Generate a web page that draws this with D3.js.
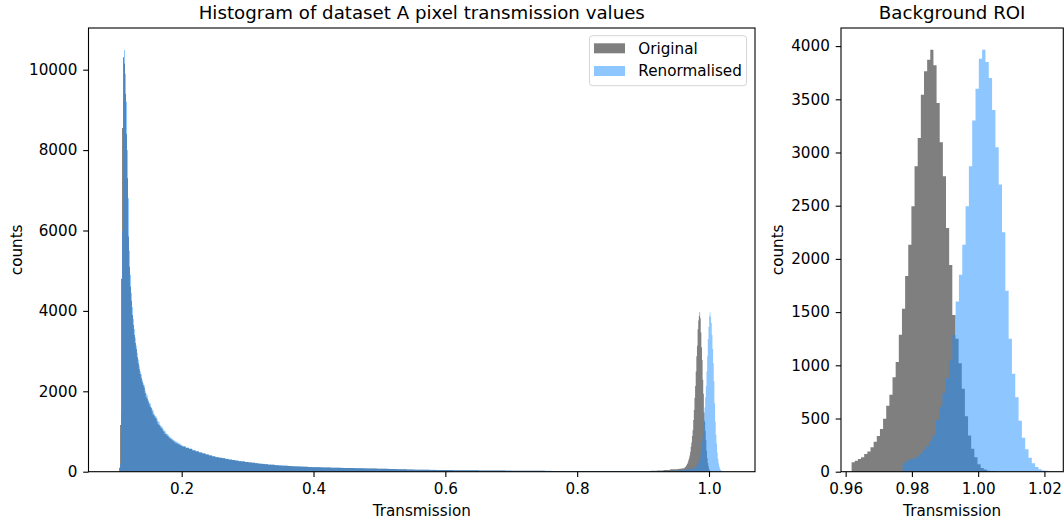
<!DOCTYPE html>
<html lang="en">
	<head>
		<meta charset="utf-8">
		<title>Transmission histograms</title>
		<script src="https://d3js.org/d3.v7.min.js"></script>
		<style type="text/css">
			body {
				margin: 0;
				background-color: #ffffff;
				font-family: "DejaVu Sans", Verdana, sans-serif;
			}
			text { fill: #000; }
		</style>
	</head>
	<body>
		<script type="text/javascript">

			// ---- data: bin counts ----
			var seriesNames = ["Original", "Renormalised"];

			// left panel, main peak: bins of 0.0015 starting at 0.105
			var lowStart = 0.105, lowWidth = 0.0015;
			var origLow = [100, 1160, 4800, 8550, 10310, 10150, 9400, 8400, 7300, 5850,
				5100, 4600, 4250, 3900, 3650, 3400, 3200, 3050, 2850, 2700,
				2550, 2430, 2330, 2240, 2150, 2090, 1960, 1850, 1820, 1750,
				1680, 1620, 1590, 1500, 1420, 1400, 1350, 1330, 1250, 1180,
				1170, 1130, 1090, 1075, 1020, 990, 940, 930, 900, 885,
				850, 830, 810, 800, 770, 750, 735, 710, 705, 690,
				675, 665, 650, 640];
			var renLow = [0, 200, 1500, 6000, 9200, 10490, 9900, 9200, 8000, 6800,
				5500, 4900, 4450, 4100, 3800, 3550, 3330, 3130, 2960, 2790,
				2640, 2500, 2420, 2290, 2200, 2150, 2020, 1940, 1900, 1790,
				1720, 1700, 1600, 1560, 1520, 1440, 1390, 1370, 1310, 1250,
				1240, 1170, 1130, 1120, 1060, 1030, 1010, 970, 940, 930,
				885, 860, 850, 820, 800, 790, 765, 750, 745, 720,
				705, 700, 678, 665];

			// left panel, long tail: bins of 0.005 starting at 0.201
			var tailStart = 0.201, tailWidth = 0.005;
			var origTail = [620, 590, 565, 530, 505, 475, 450, 425, 405, 380,
				360, 345, 332, 315, 300, 290, 275, 262, 252, 240,
				228, 220, 208, 200, 192, 183, 175, 170, 162, 156,
				150, 146, 140, 135, 132, 127, 123, 121, 116, 113,
				110, 109, 106, 104, 103, 100, 98, 97, 94, 92,
				91, 90, 87, 86, 85, 82, 80, 80, 77, 75,
				74, 73, 70, 68, 67, 63, 60, 59, 55, 52,
				50, 50, 48, 47, 47, 45, 44, 44, 42, 41];
			var renTail = [640, 600, 575, 540, 515, 480, 462, 433, 412, 388,
				368, 350, 338, 320, 307, 292, 282, 266, 257, 244,
				234, 222, 214, 203, 196, 186, 180, 171, 166, 159,
				155, 147, 144, 137, 135, 129, 127, 121, 119, 115,
				114, 110, 108, 105, 104, 101, 100, 97, 96, 93,
				93, 90, 89, 87, 86, 83, 82, 80, 79, 76,
				76, 73, 72, 69, 68, 64, 62, 59, 57, 53,
				52, 50, 50, 48, 48, 46, 46, 44, 44, 42];

			// left panel, flat stretch before the background peak: bins of 0.01 from 0.601
			var farStart = 0.601, farWidth = 0.01;
			var origFar = [40, 38, 36, 35, 33, 31, 30, 28, 27, 26, 25, 24, 23, 22, 21, 20, 20, 19,
				18, 18, 17, 17, 16, 16, 16, 15, 15, 15, 16, 18, 20, 24, 30, 40, 60];
			var renFar = [41, 39, 37, 35, 34, 32, 30, 29, 28, 27, 26, 25, 24, 23, 22, 21, 20, 20,
				19, 18, 18, 17, 17, 16, 16, 16, 15, 15, 15, 15, 15, 16, 18, 20, 25];

			// background ROI (also the peak near 1.0 on the left)
			var roiOrigStart = 0.9618, roiOrigWidth = 0.00095;
			var roiOrig = [88, 103, 120, 135, 166, 191, 229, 282, 335, 401,
				498, 620, 724, 887, 1031, 1288, 1532, 1839, 2134, 2494,
				2870, 3136, 3543, 3763, 3872, 3966, 3820, 3465, 3096, 2776,
				2290, 1942, 1473, 1250, 1020, 780, 520, 340, 215, 135,
				70, 35, 20, 10, 6, 4];
			var roiRenStart = 0.9772, roiRenWidth = 0.001;
			var roiRen = [78, 103, 118, 125, 141, 170, 204, 240, 290, 340,
				486, 611, 740, 880, 1050, 1285, 1600, 1850, 2134, 2494,
				2870, 3300, 3600, 3880, 3966, 3850, 3700, 3400, 3050, 2700,
				2250, 1700, 1250, 920, 700, 480, 320, 210, 130, 80,
				45, 24, 12, 8, 5, 3];

			// axis ticks
			var leftXTicks = [0.2, 0.4, 0.6, 0.8, 1.0];
			var leftYTicks = [0, 2000, 4000, 6000, 8000, 10000];
			var rightXTicks = [0.96, 0.98, 1.00, 1.02];
			var rightYTicks = [0, 500, 1000, 1500, 2000, 2500, 3000, 3500, 4000];

			// ---- layout ----
			var w = 1064, h = 522;
			var fontSize = 15.2;
			var tickLen = 5.3;
			var colors = { Original: "#000000", Renormalised: "#1e90ff" };
			var alpha = 0.5;

			var svg = d3.select("body")
				.append("svg")
				.attr("width", w)
				.attr("height", h)
				.style("display", "block");

			function makeBins(start, width, counts) {
				return counts.map(function(n, i) {
					return { x0: start + i * width, x1: start + (i + 1) * width, n: n };
				});
			}

			// one outline per series so the alpha overlay has no seams
			function stepPath(bins, x, y) {
				var p = d3.path();
				p.moveTo(x(bins[0].x0), y(0));
				bins.forEach(function(b) {
					p.lineTo(x(b.x0), y(b.n));
					p.lineTo(x(b.x1), y(b.n));
				});
				p.lineTo(x(bins[bins.length - 1].x1), y(0));
				p.closePath();
				return p.toString();
			}

			function drawPanel(opt) {
				var g = svg.append("g");
				var x = d3.scaleLinear().domain(opt.xDomain).range([opt.left, opt.right]);
				var y = d3.scaleLinear().domain(opt.yDomain).range([opt.bottom, opt.top]);

				var clipId = "clip" + opt.id;
				svg.append("clipPath").attr("id", clipId)
					.append("rect")
					.attr("x", opt.left).attr("y", opt.top)
					.attr("width", opt.right - opt.left)
					.attr("height", opt.bottom - opt.top);

				var hg = g.append("g").attr("clip-path", "url(#" + clipId + ")");
				opt.series.forEach(function(s) {
					hg.append("path")
						.attr("d", stepPath(s.bins, x, y))
						.attr("fill", colors[s.name])
						.attr("fill-opacity", alpha)
						.attr("stroke", "none");
				});

				var xAxis = g.append("g")
					.attr("transform", "translate(0," + opt.bottom + ")")
					.call(d3.axisBottom(x)
						.tickValues(opt.xTicks)
						.tickFormat(d3.format(opt.xFormat))
						.tickSize(tickLen)
						.tickSizeOuter(0)
						.tickPadding(6.3));
				var yAxis = g.append("g")
					.attr("transform", "translate(" + opt.left + ",0)")
					.call(d3.axisLeft(y)
						.tickValues(opt.yTicks)
						.tickFormat(d3.format("d"))
						.tickSize(tickLen)
						.tickSizeOuter(0)
						.tickPadding(5.9));
				[xAxis, yAxis].forEach(function(a) {
					a.select(".domain").remove();
					a.selectAll(".tick line").attr("stroke", "#000").attr("stroke-width", 1.1);
					a.selectAll(".tick text")
						.attr("fill", "#000")
						.style("font-family", "DejaVu Sans")
						.style("font-size", fontSize + "px");
				});

				// frame
				g.append("rect")
					.attr("x", opt.left).attr("y", opt.top)
					.attr("width", opt.right - opt.left)
					.attr("height", opt.bottom - opt.top)
					.attr("fill", "none")
					.attr("stroke", "#000")
					.attr("stroke-width", 1.1);

				g.append("text")
					.attr("x", (opt.left + opt.right) / 2)
					.attr("y", 19)
					.attr("text-anchor", "middle")
					.style("font-size", "18.2px")
					.text(opt.title);

				g.append("text")
					.attr("x", (opt.left + opt.right) / 2)
					.attr("y", 515.5)
					.attr("text-anchor", "middle")
					.style("font-size", fontSize + "px")
					.text("Transmission");

				g.append("text")
					.attr("transform", "translate(" + opt.yLabelX + "," + (opt.top + opt.bottom) / 2 + ") rotate(-90)")
					.attr("text-anchor", "middle")
					.style("font-size", fontSize + "px")
					.text("counts");

				return g;
			}

			var leftOrig = makeBins(lowStart, lowWidth, origLow)
				.concat(makeBins(tailStart, tailWidth, origTail))
				.concat(makeBins(farStart, farWidth, origFar))
				.concat(makeBins(roiOrigStart, roiOrigWidth, roiOrig));
			var leftRen = makeBins(lowStart, lowWidth, renLow)
				.concat(makeBins(tailStart, tailWidth, renTail))
				.concat(makeBins(farStart, farWidth, renFar))
				.concat(makeBins(roiRenStart, roiRenWidth, roiRen));

			var leftPanel = drawPanel({
				id: "L",
				left: 88.5, right: 755, top: 28, bottom: 471.7,
				xDomain: [0.0586, 1.0698], yDomain: [0, 11037],
				xTicks: leftXTicks, yTicks: leftYTicks, xFormat: ".1f",
				title: "Histogram of dataset A pixel transmission values",
				yLabelX: 21.5,
				series: [
					{ name: seriesNames[0], bins: leftOrig },
					{ name: seriesNames[1], bins: leftRen }
				]
			});

			drawPanel({
				id: "R",
				left: 841, right: 1063.3, top: 28, bottom: 471.7,
				xDomain: [0.9586, 1.0257], yDomain: [0, 4170],
				xTicks: rightXTicks, yTicks: rightYTicks, xFormat: ".2f",
				title: "Background ROI",
				yLabelX: 783,
				series: [
					{ name: seriesNames[0], bins: makeBins(roiOrigStart, roiOrigWidth, roiOrig) },
					{ name: seriesNames[1], bins: makeBins(roiRenStart, roiRenWidth, roiRen) }
				]
			});

			// legend
			var legend = leftPanel.append("g").attr("transform", "translate(589.5,35.7)");
			legend.append("rect")
				.attr("width", 157).attr("height", 50)
				.attr("rx", 3).attr("ry", 3)
				.attr("fill", "#fff").attr("fill-opacity", 0.8)
				.attr("stroke", "#d4d4d4").attr("stroke-width", 1);
			var items = legend.selectAll("g.item")
				.data(seriesNames)
				.enter().append("g")
				.attr("class", "item")
				.attr("transform", function(d, i) { return "translate(0," + (i * 22.7) + ")"; });
			items.append("rect")
				.attr("x", 4.5).attr("y", 7.6)
				.attr("width", 31).attr("height", 10)
				.attr("fill", function(d) { return colors[d]; })
				.attr("fill-opacity", alpha);
			items.append("text")
				.attr("x", 48.8).attr("y", 18)
				.style("font-size", fontSize + "px")
				.text(function(d) { return d; });
		</script>
	</body>
</html>
